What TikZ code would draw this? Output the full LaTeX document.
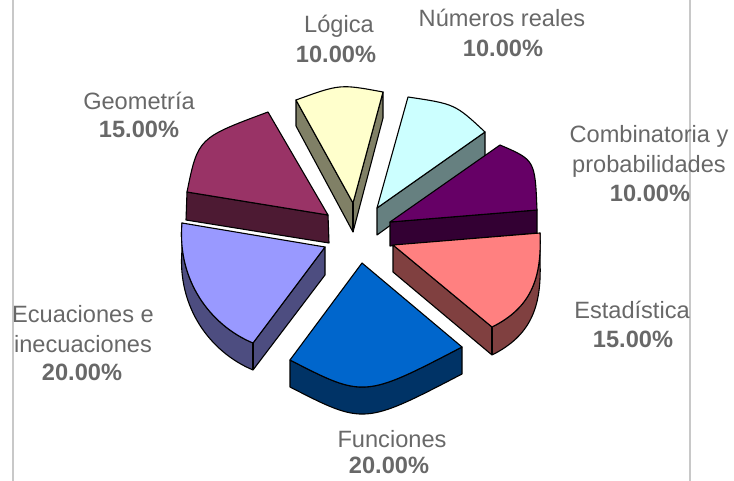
\documentclass[tikz,border=0pt]{standalone}
\usepackage{fontspec}
\setmainfont{Liberation Sans}
\definecolor{labelgray}{RGB}{104,104,104}
\definecolor{framegray}{RGB}{200,200,200}
\definecolor{logicatop}{RGB}{255,255,204}
\definecolor{logicaside}{RGB}{128,128,102}
\definecolor{numerostop}{RGB}{204,255,255}
\definecolor{numerosside}{RGB}{102,128,128}
\definecolor{combtop}{RGB}{102,0,102}
\definecolor{combside}{RGB}{51,0,51}
\definecolor{estatop}{RGB}{255,128,128}
\definecolor{estaside}{RGB}{128,64,64}
\definecolor{functop}{RGB}{0,102,204}
\definecolor{funcside}{RGB}{0,51,102}
\definecolor{ecuatop}{RGB}{153,153,255}
\definecolor{ecuaside}{RGB}{77,77,128}
\definecolor{geomtop}{RGB}{153,51,102}
\definecolor{geomside}{RGB}{77,26,51}
\begin{document}
\begin{tikzpicture}[x=1pt,y=-1pt,
  slice/.style={draw=black,line width=1.1pt,line join=round},
  frame/.style={draw=framegray,line width=2pt},
  lbl/.style={text=labelgray,font=\fontsize{23.6}{28}\selectfont,anchor=base,inner sep=0pt},
  pct/.style={lbl,font=\fontsize{23.6}{28}\selectfont\bfseries}]
\useasboundingbox (0,0) rectangle (734,481);
\draw[frame] (13,0) -- (13,481);
\draw[frame] (690,0) -- (690,481);
% Logica
\filldraw[slice,fill=logicaside] (296,100) -- (296,126) -- (353,232) -- (383,118) -- (383,92) -- (353,203) -- cycle;
\draw[slice] (353,203) -- (353,232);
\filldraw[slice,fill=logicatop] (353,203) -- (296,100) .. controls (340,84) .. (383,92) -- cycle;
% Numeros reales
\filldraw[slice,fill=numerosside] (377,208) -- (485,132) -- (485,157) -- (377,235) -- cycle;
\filldraw[slice,fill=numerostop] (377,208) -- (408,97) .. controls (455,104) .. (485,132) -- cycle;
% Geometria
\filldraw[slice,fill=geomside] (187,192) -- (328,215) -- (329,243) -- (186,220) -- cycle;
\filldraw[slice,fill=geomtop] (328,215) -- (268,112) .. controls (198,138) .. (187,192) -- cycle;
% Combinatoria
\filldraw[slice,fill=combside] (390,222) -- (537,210) -- (537,233) -- (390,246) -- cycle;
\filldraw[slice,fill=combtop] (390,222) -- (500,145) .. controls (535,160) .. (537,210) -- cycle;
% Ecuaciones
\filldraw[slice,fill=ecuaside] (182,223) .. controls (177,280) and (210,325) .. (253,343) -- (325,247) -- (325,275) -- (253,370) .. controls (210,352) and (177,307) .. (182,250) -- cycle;
\draw[slice] (253,343) -- (253,370);
\filldraw[slice,fill=ecuatop] (325,247) -- (182,223) .. controls (177,280) and (210,325) .. (253,343) -- cycle;
% Estadistica
\filldraw[slice,fill=estaside] (393,245) -- (393,272) -- (492,355) .. controls (530,336) and (542,308) .. (540,261) -- (540,233) .. controls (542,280) and (530,308) .. (492,327) -- cycle;
\draw[slice] (492,327) -- (492,355);
\filldraw[slice,fill=estatop] (393,245) -- (540,233) .. controls (542,280) and (530,308) .. (492,327) -- cycle;
% Funciones
\filldraw[slice,fill=funcside] (290,360) .. controls (364,398) .. (462,347) -- (462,374) .. controls (364,425) .. (290,387) -- cycle;
\filldraw[slice,fill=functop] (362,263) -- (290,360) .. controls (364,398) .. (462,347) -- cycle;
% labels
\foreach \n/\txt/\x/\y in {logica/Lógica/339/33, numeros/Números reales/502/27,
  comba/Combinatoria y/649/143, combb/probabilidades/649/173,
  geom/Geometría/139/110, ecuaa/Ecuaciones e/83/323, ecuab/inecuaciones/83/352,
  func/Funciones/392/447, esta/Estadística/632/318}
  \node[lbl] (\n) at (\x,\y) {\txt};
\foreach \n/\txt/\x/\y in {logicapct/10.00/336/63, numerospct/10.00/503/57,
  combpct/10.00/650/202, geompct/15.00/139/138, ecuapct/20.00/82/380,
  funcpct/20.00/389/473, estapct/15.00/633/347}
  \node[pct] (\n) at (\x,\y) {\txt\%};
\end{tikzpicture}
\end{document}
